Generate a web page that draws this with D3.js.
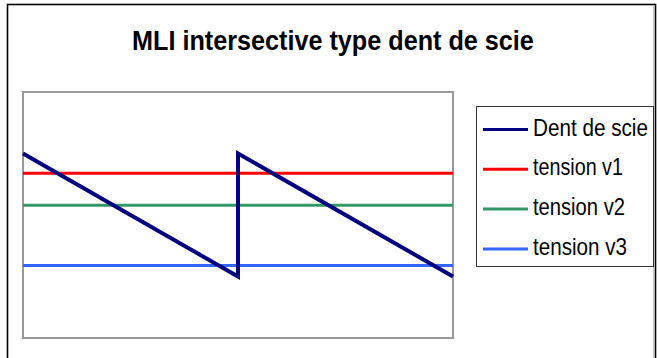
<!DOCTYPE html>
<html>
<head>
<meta charset="utf-8">
<script src="https://cdn.jsdelivr.net/npm/d3@7"></script>
<style>
  body { margin: 0; background: #fff; }
  text { font-family: "Liberation Sans", Arial, sans-serif; }
</style>
</head>
<body>
<svg id="chart" width="657" height="358"></svg>
<script>
// x positions (category index) and values
var xPoints = [0, 1, 2, 3, 4, 5, 6, 7, 8, 9, 10];
var sawX = [0, 5, 5, 10];
var sawY = [1, 0, 1, 0];
var v1 = [0.84, 0.84, 0.84, 0.84, 0.84, 0.84, 0.84, 0.84, 0.84, 0.84, 0.84];
var v2 = [0.58, 0.58, 0.58, 0.58, 0.58, 0.58, 0.58, 0.58, 0.58, 0.58, 0.58];
var v3 = [0.09, 0.09, 0.09, 0.09, 0.09, 0.09, 0.09, 0.09, 0.09, 0.09, 0.09];
var seriesNames = ["Dent de scie", "tension v1", "tension v2", "tension v3"];
var seriesColors = ["#000080", "#ff0000", "#339966", "#3366ff"];
var yDomain = [-0.5, 1.5];

var svg = d3.select("#chart");

// outer frame
svg.append("rect")
    .attr("x", 7.5).attr("y", 4.5)
    .attr("width", 648).attr("height", 380)
    .attr("fill", "#fff")
    .attr("stroke", "#000")
    .attr("stroke-width", 1.6);
svg.append("line")
    .attr("x1", 653.5).attr("x2", 653.5)
    .attr("y1", 5).attr("y2", 358)
    .attr("stroke", "#c8c8c8").attr("stroke-width", 1);

// squeeze a text horizontally so it spans the given width
function squeeze(sel, x0, y0, w) {
    var natural = sel.node().getComputedTextLength();
    sel.attr("transform", "translate(" + x0 + "," + y0 + ") scale(" + (w / natural) + ",1)");
}

var title = svg.append("text")
    .attr("font-size", "27px")
    .attr("font-weight", "bold")
    .text("MLI intersective type dent de scie");
squeeze(title, 132, 49.5, 402);

var pLeft = 23, pTop = 92, pRight = 453, pBottom = 338;

var x = d3.scaleLinear().domain([0, 10]).range([pLeft, pRight]);
var y = d3.scaleLinear().domain(yDomain).range([pBottom, pTop]);

svg.append("rect")
    .attr("x", pLeft).attr("y", pTop)
    .attr("width", pRight - pLeft).attr("height", pBottom - pTop)
    .attr("fill", "#fff")
    .attr("stroke", "#999")
    .attr("stroke-width", 2);

var line = d3.line()
    .x(function (d) { return x(d[0]); })
    .y(function (d) { return y(d[1]); });

var flat = [v1, v2, v3];
flat.forEach(function (vals, i) {
    svg.append("path")
        .datum(xPoints.map(function (xv, j) { return [xv, vals[j]]; }))
        .attr("d", line)
        .attr("fill", "none")
        .attr("stroke", seriesColors[i + 1])
        .attr("stroke-width", 3);
});

svg.append("path")
    .datum(sawX.map(function (xv, j) { return [xv, sawY[j]]; }))
    .attr("d", line)
    .attr("fill", "none")
    .attr("stroke", seriesColors[0])
    .attr("stroke-width", 4)
    .attr("stroke-linejoin", "miter");

// legend
var legend = svg.append("g");
legend.append("rect")
    .attr("x", 476.5).attr("y", 106.5)
    .attr("width", 177).attr("height", 160)
    .attr("fill", "#fff")
    .attr("stroke", "#333")
    .attr("stroke-width", 1);

var textEnds = [648, 623, 625, 627];
seriesNames.forEach(function (name, i) {
    var ly = 129.5 + i * 39.8;
    legend.append("line")
        .attr("x1", 483).attr("x2", 528)
        .attr("y1", ly).attr("y2", ly)
        .attr("stroke", seriesColors[i])
        .attr("stroke-width", 3);
    var t = legend.append("text")
        .attr("font-size", "23px")
        .text(name);
    squeeze(t, 533, ly + 6, textEnds[i] - 533);
});
</script>
</body>
</html>
